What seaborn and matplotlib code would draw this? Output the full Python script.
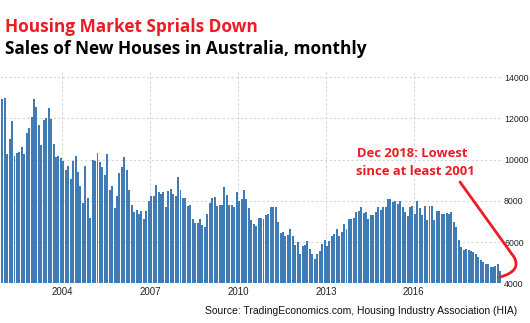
import numpy as np
import pandas as pd
import matplotlib
matplotlib.use("Agg")
import matplotlib.pyplot as plt
from matplotlib.path import Path
from matplotlib.patches import PathPatch
import seaborn as sns

# ---- data (monthly sales of new houses, Dec 2001 .. Dec 2018) ----
start_month = "2001-12-01"
sales = [
    12940, 12980, 10270, 10980, 11890, 10170, 10330, 10360, 10590, 10270,
    11300, 11530, 12070, 12940, 12540, 11680, 10700, 11920, 12000, 12490,
    11950, 10780, 10140, 10170, 10100, 9910, 9520, 9680, 9050, 9940,
    10170, 9400, 8740, 7880, 9710, 8160, 7190, 9990, 9950, 10340,
    9900, 9650, 9250, 10280, 8530, 8710, 7650, 8220, 9330, 9625,
    10110, 9480, 8540, 7800, 7460, 7560, 7340, 7500, 7120, 7520,
    8010, 8220, 8220, 8775, 8430, 8350, 8450, 7720, 8480, 8560,
    8330, 8240, 9170, 8550, 8160, 8160, 7740, 7790, 7140, 6930,
    6930, 7140, 6810, 6730, 7380, 7900, 8160, 8200, 7740, 7790,
    7790, 8650, 8280, 7790, 7790, 7710, 8420, 8000, 8070, 8550,
    8070, 7630, 7060, 6860, 6760, 7190, 7190, 7140, 7300, 7350,
    7680, 7680, 7680, 6980, 6440, 6490, 6280, 6330, 6620, 6280,
    5840, 6000, 5430, 5790, 5840, 6050, 5680, 5400, 5190, 5400,
    5560, 5890, 6110, 5790, 6050, 6280, 6370, 6620, 6280, 6490,
    6890, 6650, 7140, 7140, 7190, 7460, 7510, 7710, 7410, 7460,
    7140, 7300, 7300, 7460, 7680, 7550, 7680, 7710, 8070, 8110,
    7950, 8000, 7870, 8000, 7710, 7460, 7250, 7710, 7740, 7350,
    7980, 7630, 7300, 7740, 7090, 7740, 7740, 7090, 7510, 7510,
    7380, 7380, 7410, 7380, 7460, 6980, 6750, 6100, 5750, 5620,
    5680, 5630, 5590, 5520, 5400, 5260, 5140, 5040, 4960, 4920,
    4800, 4800, 4830, 4960, 4620,
]
year_ticks = [2004, 2007, 2010, 2013, 2016]
y_ticks = [4000, 6000, 8000, 10000, 12000, 14000]

title_red = "Housing Market Sprials Down"
title_black = "Sales of New Houses in Australia, monthly"
note = "Dec 2018: Lowest\nsince at least 2001"
source = "Source: TradingEconomics.com, Housing Industry Association (HIA)"

dates = pd.date_range(start_month, periods=len(sales), freq="MS")
df = pd.DataFrame({"pos": np.arange(len(sales)), "date": dates, "sales": sales})

W, H = 530, 323
RED = "#ec1c24"
BAR = "#3f7cb6"

sns.set_style("white")
plt.rcParams["font.family"] = ["DejaVu Sans"]

fig = plt.figure(figsize=(W / 100, H / 100), dpi=100)
ax_left, ax_right, ax_top, ax_bottom = 0, 502, 72, 283.3
ax = fig.add_axes([ax_left / W, 1 - ax_bottom / H, (ax_right - ax_left) / W, (ax_bottom - ax_top) / H])

sns.barplot(data=df, x="pos", y="sales", native_scale=True, color=BAR,
            saturation=1, width=0.8, linewidth=0, ax=ax)

ax.set_ylim(4000, 14250)
ax.set_xlim(-0.94, 204.7)

# year ticks at start of January
tick_pos = []
for yr in year_ticks:
    idx = int(np.where((df["date"].dt.year == yr) & (df["date"].dt.month == 1))[0][0])
    tick_pos.append(idx - 0.45)
ax.set_xticks(tick_pos)
ax.set_xticklabels([str(y) for y in year_ticks])
ax.set_yticks(y_ticks)
ax.set_yticklabels([str(v) for v in y_ticks])
ax.yaxis.tick_right()
ax.tick_params(axis="both", length=0, colors="#222222")
ax.tick_params(axis="y", pad=1.5)
ax.tick_params(axis="x", pad=3)
for lab in ax.get_xticklabels():
    lab.set_family(["Liberation Sans", "DejaVu Sans"])
    lab.set_fontsize(7.0)
for lab in ax.get_yticklabels():
    lab.set_family(["Liberation Sans", "DejaVu Sans"])
    lab.set_fontsize(6.3)
ax.set_xlabel("")
ax.set_ylabel("")
ax.grid(True, color="#d4d4d4", linestyle=(0, (2, 2)), linewidth=0.8)
ax.set_axisbelow(True)
for s in ax.spines.values():
    s.set_visible(False)


def fx(x):
    return x / W


def fy(y):
    return 1 - y / H


fig.text(fx(5), fy(32.3), title_red, color=RED, fontsize=12.4, fontweight="bold",
         family=["Open Sans", "DejaVu Sans"], va="baseline", ha="left")
fig.text(fx(5), fy(54.3), title_black, color="black", fontsize=12.4, fontweight="bold",
         family=["Open Sans", "DejaVu Sans"], va="baseline", ha="left")

lines = note.split("\n")
fig.text(fx(357), fy(156.7), lines[0], color=RED, fontsize=9.4, fontweight="bold",
         family=["Open Sans", "DejaVu Sans"], va="baseline", ha="left")
fig.text(fx(356), fy(175.5), lines[1], color=RED, fontsize=9.4, fontweight="bold",
         family=["Open Sans", "DejaVu Sans"], va="baseline", ha="left")

fig.text(fx(517), fy(314.3), source, color="#111111", fontsize=7.5,
         family=["Liberation Sans", "DejaVu Sans"], va="baseline", ha="right")

verts = [(fx(460), fy(182)), (fx(514), fy(257)), (fx(519), fy(266)),
         (fx(515), fy(273)), (fx(500), fy(277))]
codes = [Path.MOVETO, Path.LINETO, Path.CURVE4, Path.CURVE4, Path.CURVE4]
patch = PathPatch(Path(verts, codes), transform=fig.transFigure, fill=False,
                  edgecolor=RED, linewidth=2.0, capstyle="round", joinstyle="round",
                  clip_on=False)
fig.add_artist(patch)

fig.savefig("out.png", dpi=100)
